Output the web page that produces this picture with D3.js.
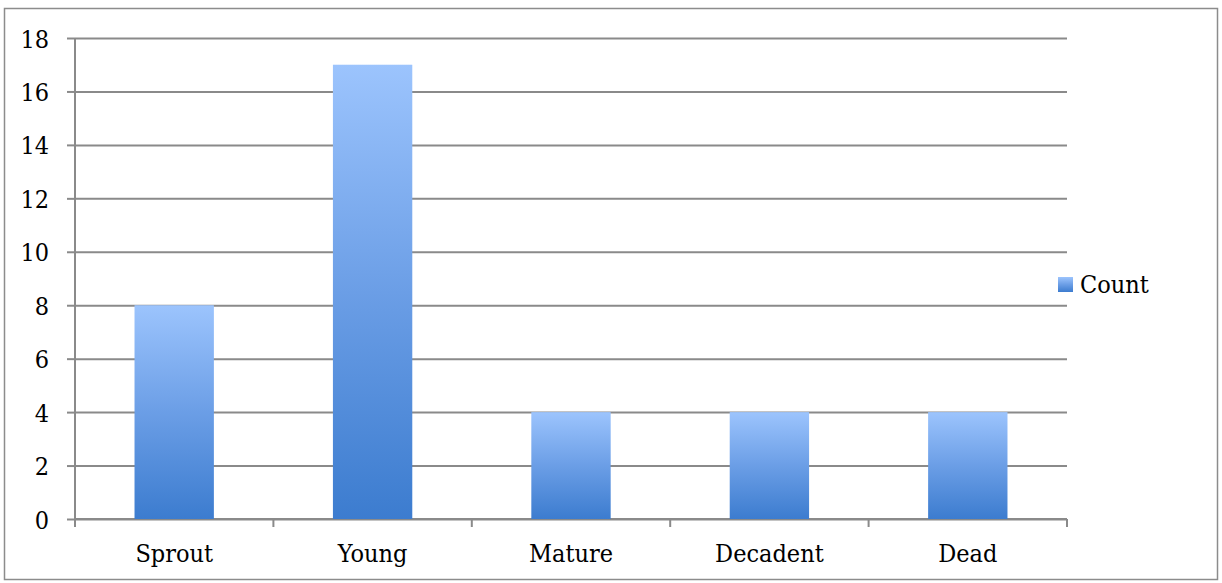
<!DOCTYPE html>
<html>
<head>
<meta charset="utf-8">
<script src="https://cdn.jsdelivr.net/npm/d3@7"></script>
<style>
  html, body { margin: 0; padding: 0; background: #fff; }
  svg { display: block; }
  text { font-family: "DejaVu Serif Condensed", "DejaVu Serif", "Liberation Serif", serif; font-stretch: condensed; fill: #000; }
</style>
</head>
<body>
<svg id="chart" width="1222" height="583"></svg>
<script>
// Tree counts by growth stage
const categories = ["Sprout", "Young", "Mature", "Decadent", "Dead"];
const counts = [8, 17, 4, 4, 4];
const yTicks = [0, 2, 4, 6, 8, 10, 12, 14, 16, 18];
const seriesName = "Count";

const svg = d3.select("#chart");
const W = 1222, H = 583;
const m = { left: 75, right: 1067, top: 38, bottom: 519 };
const fontSize = "25px";

// outer frame
svg.append("rect")
  .attr("x", 4.5).attr("y", 8.5)
  .attr("width", W - 9).attr("height", H - 12)
  .attr("fill", "none").attr("stroke", "#8c8c8c").attr("stroke-width", 1.5);

const defs = svg.append("defs");
const grad = defs.append("linearGradient")
  .attr("id", "barFill").attr("x1", 0).attr("y1", 0).attr("x2", 0).attr("y2", 1);
grad.append("stop").attr("offset", "0%").attr("stop-color", "#9cc4fd");
grad.append("stop").attr("offset", "50%").attr("stop-color", "#6b9ee6");
grad.append("stop").attr("offset", "100%").attr("stop-color", "#3c7ccf");

const x = d3.scaleBand().domain(categories).range([m.left, m.right]).paddingInner(0.6).paddingOuter(0.3);
const xEdge = d3.scaleBand().domain(categories).range([m.left, m.right]);
const y = d3.scaleLinear().domain([0, 18]).range([m.bottom, m.top]);

const gridColor = "#8a8a8a";

// horizontal gridlines with left tick marks
const yAxis = d3.axisLeft(y).tickValues(yTicks).tickSize(8).tickPadding(18).tickFormat(d3.format("d"));
const gy = svg.append("g").attr("transform", `translate(${m.left},0)`).call(yAxis);
gy.attr("font-family", null).attr("font-size", null);
gy.select(".domain").attr("stroke", gridColor).attr("stroke-width", 2).attr("d", `M0,${m.top}V${m.bottom}`);
gy.selectAll(".tick line").attr("stroke", gridColor).attr("stroke-width", 2);
gy.selectAll(".tick text").style("font-size", fontSize).attr("dy", 0).attr("y", 9);
gy.selectAll(".tick").append("line")
  .attr("x1", 0).attr("x2", m.right - m.left)
  .attr("stroke", gridColor).attr("stroke-width", 2);

// x axis with boundary ticks
const gx = svg.append("g").attr("transform", `translate(0,${m.bottom})`);
gx.append("line").attr("x1", m.left).attr("x2", m.right)
  .attr("stroke", gridColor).attr("stroke-width", 2);
const edges = categories.map(c => xEdge(c)).concat([m.right]);
gx.selectAll("line.edge").data(edges).join("line").attr("class", "edge")
  .attr("x1", d => d).attr("x2", d => d).attr("y1", 0).attr("y2", 8)
  .attr("stroke", gridColor).attr("stroke-width", 2);
gx.selectAll("text").data(categories).join("text")
  .attr("x", d => x(d) + x.bandwidth() / 2).attr("y", 43)
  .attr("text-anchor", "middle").style("font-size", fontSize)
  .text(d => d);

// bars
svg.append("g").selectAll("rect").data(categories).join("rect")
  .attr("x", d => x(d))
  .attr("y", (d, i) => y(counts[i]))
  .attr("width", x.bandwidth())
  .attr("height", (d, i) => y(0) - y(counts[i]))
  .attr("fill", "url(#barFill)");

// legend
const lg = svg.append("g").attr("transform", "translate(1058,277)");
lg.append("rect").attr("width", 15).attr("height", 15).attr("fill", "url(#barFill)");
lg.append("text").attr("x", 22).attr("y", 16).style("font-size", fontSize).text(seriesName);
</script>
</body>
</html>
